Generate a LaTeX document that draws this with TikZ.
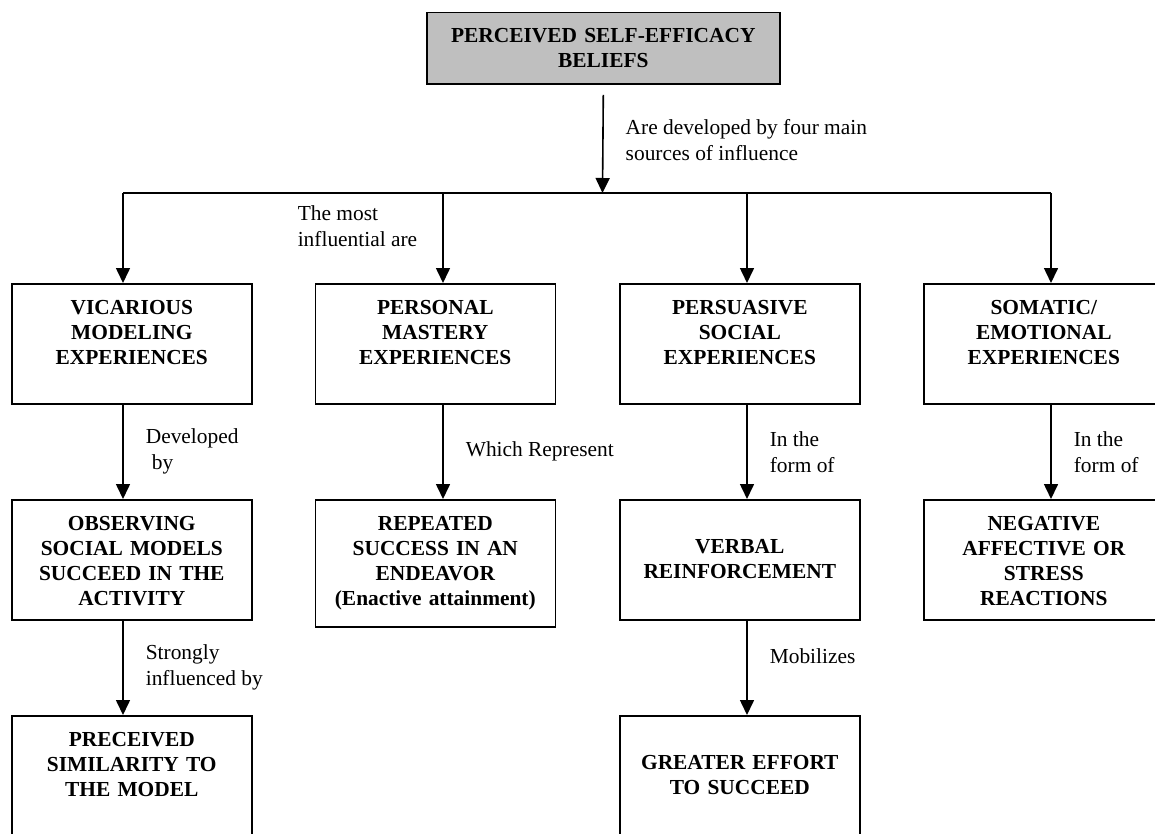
\documentclass[tikz,border=0pt]{standalone}
\usepackage{fontspec}
\setmainfont{Liberation Serif}
\usetikzlibrary{positioning,arrows.meta}

\tikzset{
    box/.style = {draw, line width = 1.6pt, inner sep = 0pt, anchor = north west, text width = 240pt, align = center,
                  font = \fontsize{21.4}{25}\selectfont\bfseries, text height = 31pt, text depth = 89pt},
    lowbox/.style = {box, text height = 54pt, text depth = 66pt},
    lbl/.style = {inner sep = 0pt, align = left, font = \fontsize{21.4}{26}\selectfont},
    arr/.style = {line width = 1.6pt, -{Triangle[length = 15pt, width = 14pt]}}
}

\begin{document}
\begin{tikzpicture}[x = 1pt, y = -1pt]
    \clip (0,0) rectangle (1155,834);
    \node[box, fill = black!25, text width = 353pt, text height = 30pt, text depth = 41.6pt] (belief) at (426,11.7) {PERCEIVED SELF-EFFICACY\\BELIEFS};
    % first row
    \node[box] (vic) at (11,283) {VICARIOUS\\MODELING\\EXPERIENCES};
    \node[box] (mas) at (314.5,283) {PERSONAL\\MASTERY\\EXPERIENCES};
    \node[box] (per) at (619,283) {PERSUASIVE\\SOCIAL\\EXPERIENCES};
    \node[box] (som) at (923,283) {SOMATIC/\\EMOTIONAL\\EXPERIENCES};
    % second row
    \node[box] (obs) at (11,499) {OBSERVING\\SOCIAL MODELS\\SUCCEED IN THE\\ACTIVITY};
    \node[box, text depth = 96pt] (rep) at (314.5,499) {REPEATED\\SUCCESS IN AN\\ENDEAVOR\\(Enactive attainment)};
    \node[lowbox] (ver) at (619,499) {VERBAL\\REINFORCEMENT};
    \node[box] (neg) at (923,499) {NEGATIVE\\AFFECTIVE OR\\STRESS\\REACTIONS};
    % third row
    \node[box] (sim) at (11,715) {PRECEIVED\\SIMILARITY TO\\THE MODEL};
    \node[lowbox] (eff) at (619,715) {GREATER EFFORT\\TO SUCCEED};
    % bus
    \coordinate (bus) at (602.5,193);
    \coordinate (c1) at (123,193);
    \coordinate (c2) at (443,193);
    \coordinate (c3) at (747,193);
    \coordinate (c4) at (1051,193);
    \draw[line width = 1.6pt] (c1) -- (c4);
    \draw[arr] ([yshift = -10pt]belief.south) -- (bus) node[lbl, pos = 0.46, right = 22pt] (src) {Are developed by four main\\sources of influence};
    \draw[arr] (c1) -- (c1 |- vic.north);
    \draw[arr] (c2) -- (c2 |- mas.north) node[lbl, pos = 0.37, left = 25pt] (most) {The most\\influential are};
    \draw[arr] (c3) -- (c3 |- per.north);
    \draw[arr] (c4) -- (c4 |- som.north);
    % down the columns
    \draw[arr] (c1 |- vic.south) -- (c1 |- obs.north) node[lbl, midway, right = 22pt] (dev) {Developed\\\hspace{6pt}by};
    \draw[arr] (c2 |- mas.south) -- (c2 |- rep.north) node[lbl, midway, right = 22pt] (which) {Which Represent};
    \draw[arr] (c3 |- per.south) -- (c3 |- ver.north) node[lbl, midway, right = 22pt] (form) {In the\\form of};
    \draw[arr] (c4 |- som.south) -- (c4 |- neg.north) node[lbl, midway, right = 22pt] (formb) {In the\\form of};
    \draw[arr] (c1 |- obs.south) -- (c1 |- sim.north) node[lbl, midway, right = 22pt] (strong) {Strongly\\influenced by};
    \draw[arr] (c3 |- ver.south) -- (c3 |- eff.north) node[lbl, pos = 0.38, right = 22pt] (mob) {Mobilizes};
\end{tikzpicture}
\end{document}
